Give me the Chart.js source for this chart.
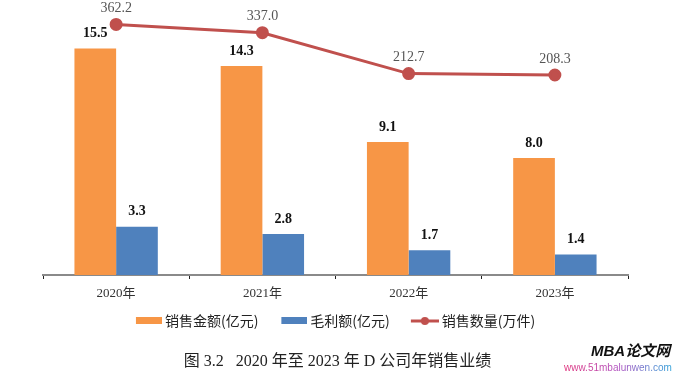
<!DOCTYPE html>
<html>
<head>
<meta charset="utf-8">
<script src="https://cdn.jsdelivr.net/npm/chart.js@4.4.1/dist/chart.umd.min.js"></script>
<style>
  html, body { margin: 0; padding: 0; background: #fff; }
  #wrap { position: relative; width: 675px; height: 377px; }
  #caption {
    position: absolute; left: 0; width: 675px; top: 347px; text-align: center;
    font: 16px "Liberation Serif", "Noto Sans CJK SC", serif; color: #222;
  }
  #mark1 {
    position: absolute; left: 591px; top: 339px;
    font: italic bold 15px "Liberation Sans", "Noto Sans CJK SC", sans-serif; color: #111;
  }
  #mark2 {
    position: absolute; left: 564px; top: 362px;
    font: 10px "Liberation Sans", sans-serif;
    background: linear-gradient(90deg, #e0307a, #b050c0 50%, #2aa0d8);
    -webkit-background-clip: text; background-clip: text; color: transparent;
  }
</style>
</head>
<body>
<div id="wrap">
  <canvas id="myChart" width="675" height="377"></canvas>
  <div id="caption">图 3.2&nbsp;&nbsp;&nbsp;2020 年至 2023 年 D 公司年销售业绩</div>
  <div id="mark1">MBA论文网</div>
  <div id="mark2">www.51mbalunwen.com</div>
</div>
<script>
const years = ["2020年", "2021年", "2022年", "2023年"];
const salesAmount = [15.5, 14.3, 9.1, 8.0];   // 销售金额(亿元)
const grossProfit = [3.3, 2.8, 1.7, 1.4];     // 毛利额(亿元)
const salesVolume = [362.2, 337.0, 212.7, 208.3]; // 销售数量(万件)

const ORANGE = "#F79646";
const BLUE = "#4F81BD";
const RED = "#C0504D";

// legend icons: right-aligned inside a wider transparent canvas so the
// spacing between legend items comes out like the original
const ICON_BOX = 39;
function boxIcon(color) {
  const c = document.createElement("canvas");
  c.width = ICON_BOX + 8; c.height = 8;
  const g = c.getContext("2d");
  g.fillStyle = color;
  g.fillRect(c.width - 26, 0, 26, 7);
  return c;
}
function lineIcon(color) {
  const c = document.createElement("canvas");
  c.width = ICON_BOX + 8; c.height = 10;
  const g = c.getContext("2d");
  const x0 = c.width - 28;
  g.strokeStyle = color;
  g.lineWidth = 3;
  g.beginPath(); g.moveTo(x0, 5); g.lineTo(c.width, 5); g.stroke();
  g.fillStyle = color;
  g.beginPath(); g.arc(x0 + 14, 5, 4, 0, Math.PI * 2); g.fill();
  return c;
}
const icons = [boxIcon(ORANGE), boxIcon(BLUE), lineIcon(RED)];
const legendOrder = [1, 2, 0];

// value labels above bars and points
const valueLabels = {
  id: "valueLabels",
  afterDatasetsDraw(chart) {
    const ctx = chart.ctx;
    ctx.save();
    ctx.textAlign = "center";
    ctx.textBaseline = "middle";
    chart.data.datasets.forEach((ds, i) => {
      const meta = chart.getDatasetMeta(i);
      meta.data.forEach((el, j) => {
        const v = ds.data[j].toFixed(1);
        if (ds.type === "line") {
          ctx.font = "14px 'Liberation Serif'";
          ctx.fillStyle = "#555";
          ctx.fillText(v, el.x, el.y - 16);
        } else {
          ctx.font = "bold 14px 'Liberation Serif'";
          ctx.fillStyle = "#111";
          ctx.fillText(v, el.x, el.y - 15);
        }
      });
    });
    ctx.restore();
  }
};

const data = {
  labels: years,
  datasets: [
    {
      type: "line",
      label: "销售数量(万件)",
      data: salesVolume,
      yAxisID: "y2",
      borderColor: RED,
      backgroundColor: RED,
      borderWidth: 3,
      pointRadius: 5,
      pointHoverRadius: 5,
      tension: 0,
      order: 0,
    },
    {
      label: "销售金额(亿元)",
      data: salesAmount,
      backgroundColor: ORANGE,
      order: 1,
    },
    {
      label: "毛利额(亿元)",
      data: grossProfit,
      backgroundColor: BLUE,
      order: 1,
    },
  ],
};

const options = {
  responsive: false,
  animation: false,
  layout: { padding: { left: 43, right: 47, top: 12, bottom: 39 } },
  datasets: {
    bar: { categoryPercentage: 0.57, barPercentage: 1.0 },
  },
  plugins: {
    tooltip: { enabled: false },
    legend: {
      position: "bottom",
      labels: {
        usePointStyle: true,
        pointStyleWidth: ICON_BOX,
        padding: 6,
        color: "#222",
        font: { size: 14, family: "'Noto Sans CJK SC'" },
        sort: (a, b) => legendOrder.indexOf(a.datasetIndex) - legendOrder.indexOf(b.datasetIndex),
        generateLabels(chart) {
          const items = Chart.defaults.plugins.legend.labels.generateLabels(chart);
          items.forEach(it => {
            it.pointStyle = icons[legendOrder.indexOf(it.datasetIndex)];
            // trailing space balances the transparent left part of the first icon
            if (it.datasetIndex === 0) it.text = it.text + "\u2003\u2009";
          });
          return items;
        },
      },
    },
  },
  scales: {
    x: {
      offset: true,
      grid: {
        offset: true,
        drawOnChartArea: false,
        tickLength: 4,
        color: "#222",
      },
      border: { color: "#8a8a8a", width: 2 },
      ticks: {
        color: "#333",
        padding: 8,
        font: { size: 13, lineHeight: 1, family: "'Liberation Serif', 'Noto Sans CJK SC'" },
      },
    },
    y: { display: false, min: 0, max: 18 },
    y2: { display: false, min: -400, max: 400 },
  },
};

const config = {
  type: "bar",
  data: data,
  options,
  plugins: [valueLabels],
};

const myChart = new Chart(document.getElementById("myChart"), config);
</script>
</body>
</html>
